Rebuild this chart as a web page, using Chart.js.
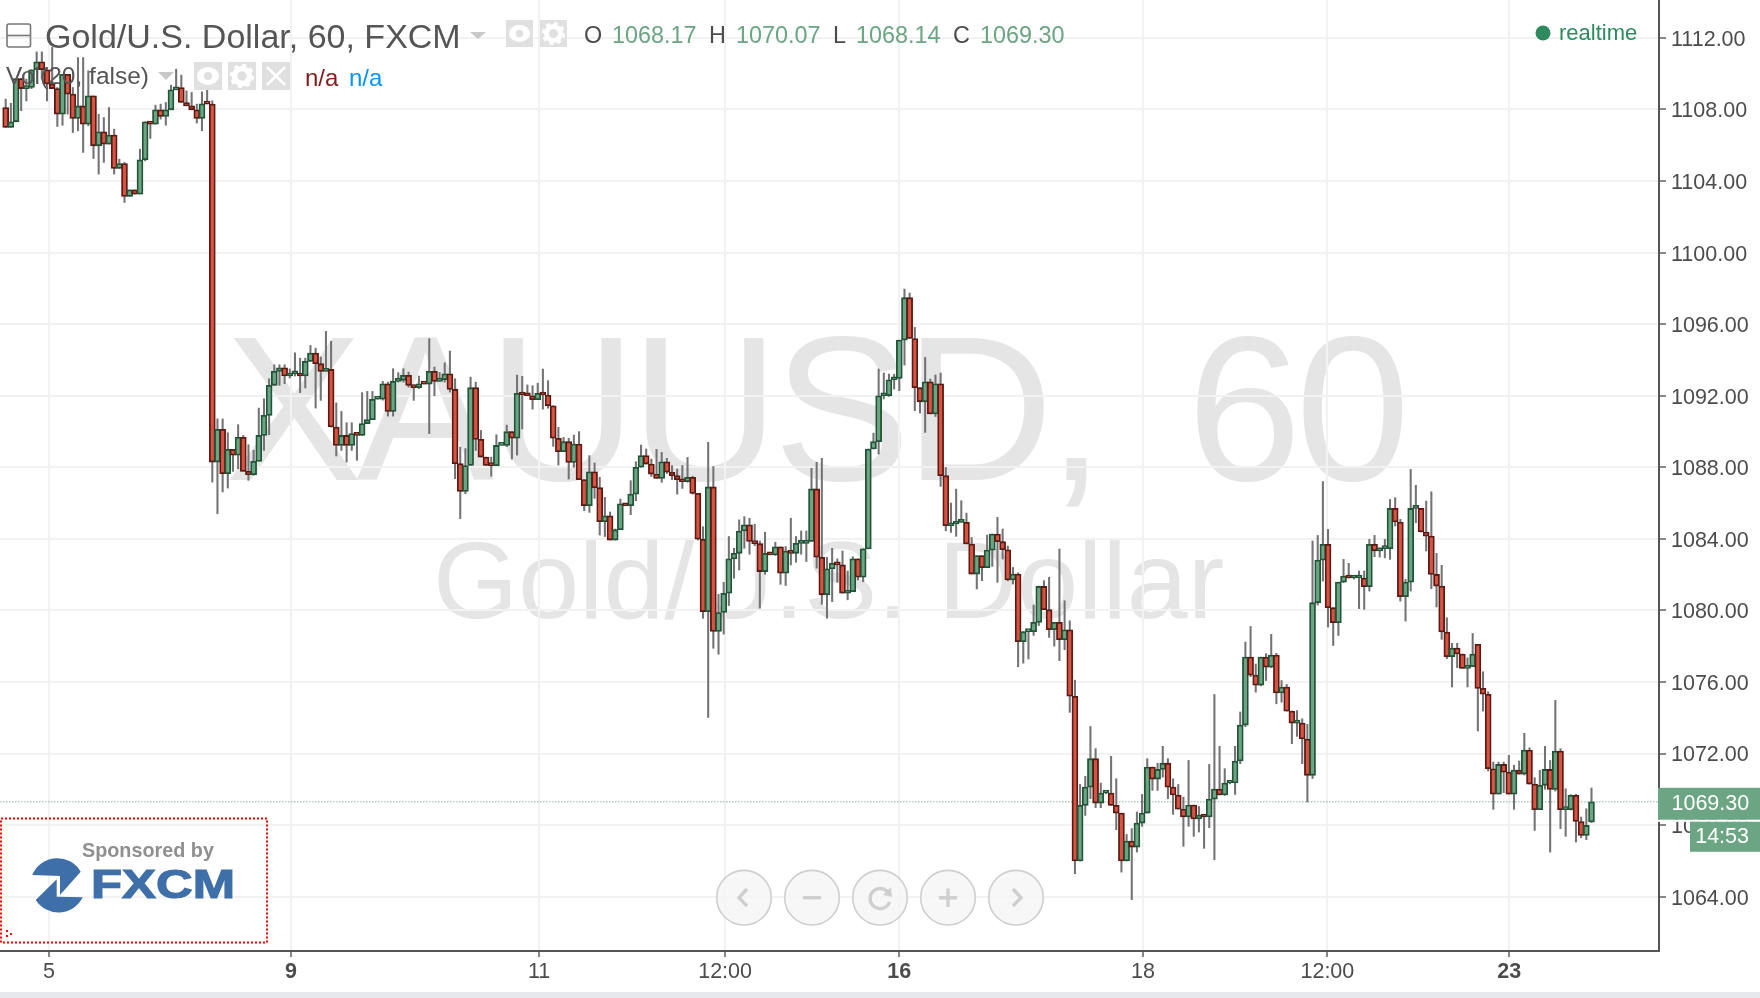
<!DOCTYPE html>
<html><head><meta charset="utf-8">
<script src="https://cdn.jsdelivr.net/npm/chart.js@4"></script>
<style>
html,body{margin:0;padding:0;background:#fff;width:1760px;height:998px;overflow:hidden;font-family:"Liberation Sans",Arial,sans-serif}
#wrap{position:relative;width:1760px;height:998px;background:#fff}
#strip{position:absolute;left:0;top:992px;width:1760px;height:6px;background:#e6e8ee}
.t{position:absolute;white-space:nowrap;line-height:1}
#c{position:absolute;left:0;top:0;z-index:2}
.wm{z-index:1;color:#e5e5e5}
.ov{z-index:3}
svg.ov{position:absolute;left:0;top:0}
</style></head><body><div id="wrap">
<div class="t wm" style="left:225px;top:306px;font-size:206px;letter-spacing:-6px;word-spacing:37px" id="wm1">XAUUSD, 60</div>
<div class="t wm" style="left:433px;top:526px;font-size:109.5px" id="wm2">Gold/U.S. Dollar</div>
<canvas id="c" width="1760" height="992"></canvas>
<div id="strip"></div>
<svg class="ov" width="1760" height="998">
 <rect x="7" y="24" width="23.5" height="23" rx="2" fill="none" stroke="#777" stroke-width="1.6"/><line x1="7" y1="35.5" x2="30.5" y2="35.5" stroke="#777" stroke-width="1.6"/>
 <polygon points="470,32 486,32 478,39" fill="#c9c9c9"/>
 <rect x="506" y="20" width="27" height="27" fill="#e0e0e0"/><rect x="540" y="20" width="27" height="27" fill="#e0e0e0"/>
 <ellipse cx="519.5" cy="33.5" rx="10.5" ry="8.5" fill="#fff"/><circle cx="519.5" cy="33.5" r="3.8" fill="#e0e0e0"/>
 <circle cx="553.5" cy="33.5" r="7" fill="none" stroke="#fff" stroke-width="5"/><circle cx="553.5" cy="33.5" r="10" fill="none" stroke="#fff" stroke-width="3.2" stroke-dasharray="4 3.85"/>
 <polygon points="158,72 174,72 166,80" fill="#c9c9c9"/>
 <rect x="194" y="62" width="28" height="28" fill="#e0e0e0"/><rect x="228" y="62" width="28" height="28" fill="#e0e0e0"/><rect x="262" y="62" width="28" height="28" fill="#e0e0e0"/>
 <ellipse cx="208" cy="76" rx="11" ry="9" fill="#fff"/><circle cx="208" cy="76" r="4" fill="#e0e0e0"/>
 <circle cx="242" cy="76" r="7.5" fill="none" stroke="#fff" stroke-width="5.5"/><circle cx="242" cy="76" r="10.5" fill="none" stroke="#fff" stroke-width="3.5" stroke-dasharray="4 4.2"/>
 <path d="M267 67 L285 85 M285 67 L267 85" stroke="#fff" stroke-width="2.6"/>
 <circle cx="1543" cy="33" r="7.5" fill="#2e8b5f"/>
 <rect x="1" y="818.5" width="266" height="124" fill="none" stroke="#f00" stroke-width="2" stroke-dasharray="2 2"/>
 <path d="M6 930h2v2h-2zM10 933h2v2h-2zM6 935h2v2h-2z" fill="#f00"/>
 <path d="M32.3 875 L60 876 L60 895 L80.7 871.7 A27 27 0 0 0 32.3 875Z" fill="#3f6fa8"/>
 <path d="M35.7 900 L56.7 879.3 L56.7 896.7 L82.7 897.3 A27 27 0 0 1 35.7 900Z" fill="#3f6fa8"/>
 <text x="91" y="898" font-family="Liberation Sans" font-weight="bold" font-size="41" fill="#3f6fa8" stroke="#3f6fa8" stroke-width="1.2" textLength="144" lengthAdjust="spacingAndGlyphs">FXCM</text>
 <g fill="#f6f6f6" fill-opacity=".85" stroke="#cfcfcf" stroke-width="1.6">
  <circle cx="744" cy="897.7" r="27.3"/><circle cx="812" cy="897.7" r="27.3"/><circle cx="880" cy="897.7" r="27.3"/><circle cx="948" cy="897.7" r="27.3"/><circle cx="1016" cy="897.7" r="27.3"/>
 </g>
 <g fill="none" stroke="#cfcfcf" stroke-width="3.4">
  <path d="M747 889 L739 897.7 L747 906"/><path d="M803 897.7 H821"/><path d="M889 894 A10 10 0 1 0 889.5 902"/><path d="M939 897.7 H957 M948 888.5 V907"/><path d="M1013 889 L1021 897.7 L1013 906"/>
 </g>
 <polygon points="891,887 892,897 883,895" fill="#cfcfcf"/>
</svg>
<div class="t ov" style="left:45px;top:19px;font-size:34px;color:#555" id="title">Gold/U.S. Dollar, 60, FXCM</div>
<div class="t ov" style="left:6px;top:64px;font-size:24.5px;color:#555">Vol(20, false)</div>
<div class="t ov" style="left:305px;top:66px;font-size:24px;color:#7f1d1d">n/a</div>
<div class="t ov" style="left:349px;top:66px;font-size:24px;color:#0496ff">n/a</div>
<div class="t ov" style="left:584px;top:24px;font-size:23.4px;color:#4c4c4c">O</div>
<div class="t ov" style="left:612px;top:24px;font-size:23.4px;color:#6ba583">1068.17</div>
<div class="t ov" style="left:709px;top:24px;font-size:23.4px;color:#4c4c4c">H</div>
<div class="t ov" style="left:736px;top:24px;font-size:23.4px;color:#6ba583">1070.07</div>
<div class="t ov" style="left:833px;top:24px;font-size:23.4px;color:#4c4c4c">L</div>
<div class="t ov" style="left:856px;top:24px;font-size:23.4px;color:#6ba583">1068.14</div>
<div class="t ov" style="left:953px;top:24px;font-size:23.4px;color:#4c4c4c">C</div>
<div class="t ov" style="left:980px;top:24px;font-size:23.4px;color:#6ba583">1069.30</div>
<div class="t ov" style="left:1559px;top:22px;font-size:22px;color:#2e8b5f">realtime</div>
<div class="t ov" style="left:82px;top:841px;font-size:19.8px;font-weight:bold;color:#8f8f8f">Sponsored by</div>
</div>
<script>
const opens=[1108.11,1107.00,1107.31,1109.73,1109.17,1109.23,1110.22,1110.66,1110.22,1109.42,1109.17,1107.74,1109.97,1108.86,1107.50,1108.20,1107.18,1108.76,1105.97,1106.75,1106.06,1106.57,1104.70,1104.98,1103.14,1103.51,1103.27,1105.19,1107.31,1107.18,1107.98,1107.61,1107.98,1109.10,1109.23,1108.39,1108.20,1107.98,1107.50,1108.32,1108.30,1088.29,1090.12,1087.64,1089.00,1088.67,1089.67,1087.77,1087.58,1088.33,1089.78,1090.90,1092.58,1093.36,1093.56,1093.10,1093.23,1093.23,1093.10,1093.92,1094.38,1093.79,1093.36,1093.47,1090.25,1089.22,1089.78,1089.22,1089.88,1089.78,1090.44,1090.66,1091.80,1091.80,1092.67,1091.12,1092.80,1092.86,1093.14,1092.58,1092.45,1092.67,1092.65,1093.36,1092.80,1092.89,1093.23,1092.35,1088.20,1086.65,1088.10,1092.45,1089.56,1088.57,1088.10,1088.09,1089.22,1089.22,1089.99,1089.62,1092.13,1092.04,1092.00,1091.78,1092.13,1092.04,1091.44,1089.62,1088.87,1089.43,1088.27,1089.30,1087.31,1085.85,1087.75,1086.86,1084.96,1085.29,1083.93,1084.51,1085.96,1085.85,1086.50,1088.00,1088.65,1088.18,1087.62,1087.38,1088.31,1087.72,1087.53,1087.31,1087.19,1087.44,1086.54,1083.98,1079.93,1086.90,1078.82,1079.88,1080.96,1082.88,1083.19,1084.44,1084.78,1083.85,1083.73,1082.17,1083.19,1083.10,1083.55,1082.08,1083.32,1083.19,1083.75,1083.75,1083.85,1086.79,1082.97,1080.87,1082.32,1082.63,1082.54,1080.96,1081.05,1082.88,1081.85,1083.44,1089.02,1089.43,1092.00,1092.00,1092.89,1092.97,1095.11,1097.48,1095.20,1092.45,1091.66,1092.78,1090.98,1092.67,1087.53,1084.73,1084.83,1084.92,1084.92,1083.71,1082.03,1083.06,1082.39,1083.37,1084.27,1083.84,1083.39,1081.70,1082.03,1078.25,1078.81,1078.81,1079.33,1081.34,1080.04,1078.92,1079.33,1078.36,1078.92,1075.20,1065.99,1069.10,1070.12,1071.71,1069.23,1069.79,1069.79,1069.10,1068.67,1065.99,1067.11,1066.77,1068.11,1068.67,1071.24,1070.57,1071.11,1071.46,1070.12,1069.68,1068.89,1068.45,1069.12,1068.34,1068.56,1068.45,1069.45,1070.01,1069.68,1070.35,1070.35,1071.58,1073.59,1077.39,1076.38,1075.82,1077.39,1076.83,1077.50,1075.38,1075.71,1074.37,1073.70,1073.70,1072.81,1070.78,1080.43,1082.81,1083.69,1080.15,1079.31,1081.58,1081.92,1081.81,1081.81,1081.81,1081.32,1083.69,1083.33,1083.45,1083.45,1085.70,1084.94,1080.76,1081.58,1085.70,1085.70,1084.38,1084.15,1082.01,1081.36,1078.79,1077.41,1077.89,1077.56,1076.76,1076.85,1078.10,1075.64,1075.31,1071.15,1069.73,1071.39,1070.96,1069.73,1071.08,1070.85,1072.19,1070.29,1068.86,1070.22,1071.11,1069.99,1072.14,1068.86,1068.86,1069.66,1068.20,1067.42,1068.17];
const closes=[1107.00,1107.31,1109.73,1109.17,1109.23,1110.22,1110.66,1110.22,1109.42,1109.17,1107.74,1109.97,1108.86,1107.50,1108.20,1107.18,1108.76,1105.97,1106.75,1106.06,1106.57,1104.70,1104.98,1103.14,1103.51,1103.27,1105.19,1107.31,1107.18,1107.98,1107.61,1107.98,1109.10,1109.23,1108.39,1108.20,1107.98,1107.50,1108.32,1108.30,1088.29,1090.12,1087.64,1089.00,1088.67,1089.67,1087.77,1087.58,1088.33,1089.78,1090.90,1092.58,1093.36,1093.56,1093.10,1093.23,1093.23,1093.10,1093.92,1094.38,1093.79,1093.36,1093.47,1090.25,1089.22,1089.78,1089.22,1089.88,1089.78,1090.44,1090.66,1091.80,1091.80,1092.67,1091.12,1092.80,1092.86,1093.14,1092.58,1092.45,1092.67,1092.65,1093.36,1092.80,1092.89,1093.23,1092.35,1088.20,1086.65,1088.10,1092.45,1089.56,1088.57,1088.10,1088.09,1089.22,1089.22,1089.99,1089.62,1092.13,1092.04,1092.00,1091.78,1092.13,1092.04,1091.44,1089.62,1088.87,1089.43,1088.27,1089.30,1087.31,1085.85,1087.75,1086.86,1084.96,1085.29,1083.93,1084.51,1085.96,1085.85,1086.50,1088.00,1088.65,1088.18,1087.62,1087.38,1088.31,1087.72,1087.53,1087.31,1087.19,1087.44,1086.54,1083.98,1079.93,1086.90,1078.82,1079.88,1080.96,1082.88,1083.19,1084.44,1084.78,1083.85,1083.73,1082.17,1083.19,1083.10,1083.55,1082.08,1083.32,1083.19,1083.75,1083.75,1083.85,1086.79,1082.97,1080.87,1082.32,1082.63,1082.54,1080.96,1081.05,1082.88,1081.85,1083.44,1089.02,1089.43,1092.00,1092.00,1092.89,1092.97,1095.11,1097.48,1095.20,1092.45,1091.66,1092.78,1090.98,1092.67,1087.53,1084.73,1084.83,1084.92,1084.92,1083.71,1082.03,1083.06,1082.39,1083.37,1084.27,1083.84,1083.39,1081.70,1082.03,1078.25,1078.81,1078.81,1079.33,1081.34,1080.04,1078.92,1079.33,1078.36,1078.92,1075.20,1065.99,1069.10,1070.12,1071.71,1069.23,1069.79,1069.79,1069.10,1068.67,1065.99,1067.11,1066.77,1068.11,1068.67,1071.24,1070.57,1071.11,1071.46,1070.12,1069.68,1068.89,1068.45,1069.12,1068.34,1068.56,1068.45,1069.45,1070.01,1069.68,1070.35,1070.35,1071.58,1073.59,1077.39,1076.38,1075.82,1077.39,1076.83,1077.50,1075.38,1075.71,1074.37,1073.70,1073.70,1072.81,1070.78,1080.43,1082.81,1083.69,1080.15,1079.31,1081.58,1081.92,1081.81,1081.81,1081.81,1081.32,1083.69,1083.33,1083.45,1083.45,1085.70,1084.94,1080.76,1081.58,1085.70,1085.70,1084.38,1084.15,1082.01,1081.36,1078.79,1077.41,1077.89,1077.56,1076.76,1076.85,1077.56,1075.64,1075.31,1071.15,1069.73,1071.39,1070.96,1069.73,1071.08,1070.85,1072.19,1070.29,1068.86,1070.22,1071.11,1069.99,1072.14,1068.86,1068.86,1069.66,1068.20,1067.42,1067.98,1069.30];
const highs=[1108.58,1108.35,1109.73,1109.73,1109.70,1110.22,1111.22,1111.22,1110.35,1111.47,1109.23,1109.97,1109.50,1109.23,1110.90,1110.90,1110.16,1108.76,1107.74,1107.55,1108.11,1106.90,1105.22,1105.04,1103.51,1103.51,1105.78,1107.31,1107.31,1108.24,1108.30,1108.39,1109.36,1110.25,1109.92,1109.04,1108.95,1108.30,1108.99,1109.14,1108.48,1090.71,1090.70,1089.93,1089.00,1090.38,1089.78,1089.26,1088.95,1091.31,1091.83,1092.95,1093.73,1093.73,1093.73,1093.50,1094.40,1094.10,1094.10,1094.81,1094.66,1094.16,1095.60,1095.04,1091.60,1091.12,1090.49,1090.49,1089.88,1092.17,1092.24,1092.24,1091.80,1092.80,1092.76,1093.51,1093.29,1093.51,1093.32,1092.60,1093.10,1092.67,1095.19,1093.60,1093.30,1093.84,1094.50,1092.95,1089.13,1089.04,1093.04,1092.76,1090.06,1088.57,1088.57,1089.82,1089.22,1090.36,1089.99,1093.15,1093.08,1092.60,1092.56,1092.70,1093.49,1092.84,1091.44,1090.23,1089.67,1089.62,1089.80,1089.99,1087.31,1088.65,1088.24,1087.44,1086.32,1085.50,1084.55,1086.22,1085.96,1087.25,1088.31,1089.24,1089.02,1088.46,1089.00,1088.83,1088.50,1088.09,1087.90,1088.10,1088.55,1087.50,1086.54,1084.68,1089.40,1088.04,1080.90,1081.57,1084.13,1083.47,1085.06,1085.24,1085.15,1084.81,1083.88,1084.37,1083.19,1083.81,1083.55,1083.57,1085.15,1084.13,1084.44,1084.44,1087.94,1088.28,1088.50,1082.97,1083.47,1082.88,1083.32,1082.20,1083.00,1082.88,1083.44,1089.02,1089.91,1093.49,1093.27,1093.21,1093.20,1095.11,1097.96,1097.74,1095.82,1092.45,1094.14,1092.93,1093.16,1093.27,1087.99,1086.00,1086.78,1086.13,1085.44,1084.08,1083.06,1083.06,1084.21,1084.27,1085.20,1084.55,1083.60,1082.40,1082.10,1078.81,1078.81,1080.30,1081.36,1081.66,1081.85,1079.33,1083.43,1080.54,1079.42,1076.10,1070.27,1070.72,1073.51,1072.27,1070.35,1069.85,1071.84,1070.59,1068.67,1067.48,1067.80,1068.73,1069.71,1071.71,1071.24,1071.46,1072.40,1071.71,1070.59,1070.27,1069.56,1071.61,1069.12,1069.04,1068.56,1071.39,1075.30,1072.40,1071.15,1070.40,1072.40,1074.32,1078.23,1079.10,1077.00,1077.39,1077.58,1078.66,1077.60,1076.08,1075.86,1074.37,1074.40,1073.94,1073.63,1083.88,1084.19,1087.20,1084.53,1080.15,1081.58,1082.85,1082.63,1081.90,1082.20,1082.20,1083.97,1084.19,1083.50,1083.97,1086.20,1086.30,1085.09,1081.73,1087.88,1086.99,1085.70,1086.11,1086.63,1083.19,1082.52,1079.59,1078.16,1078.16,1077.56,1077.35,1078.71,1078.10,1076.57,1075.45,1071.52,1071.52,1071.52,1071.90,1071.34,1071.58,1073.13,1072.32,1070.65,1071.06,1072.40,1071.61,1074.97,1072.27,1070.03,1069.70,1069.72,1068.45,1068.91,1070.07];
const lows=[1107.00,1107.00,1107.31,1107.93,1108.48,1109.17,1110.22,1109.70,1108.48,1109.17,1107.05,1107.12,1107.74,1106.71,1106.81,1105.60,1107.09,1105.26,1104.39,1105.04,1106.06,1104.39,1104.70,1102.80,1103.14,1103.27,1103.27,1105.13,1106.38,1107.18,1107.46,1107.12,1107.98,1109.10,1108.39,1108.20,1107.98,1107.24,1106.81,1108.32,1087.17,1085.40,1086.62,1086.84,1087.77,1087.92,1087.77,1087.27,1087.55,1088.94,1088.94,1089.82,1092.58,1092.58,1092.67,1092.99,1093.10,1092.17,1092.43,1093.92,1091.31,1091.74,1093.36,1090.25,1088.63,1088.94,1088.29,1088.94,1088.39,1089.78,1090.44,1090.66,1091.80,1091.75,1090.86,1090.86,1092.76,1092.76,1092.48,1091.74,1092.40,1092.65,1089.88,1092.00,1092.80,1092.76,1092.20,1087.36,1085.13,1086.52,1088.10,1088.94,1088.57,1088.10,1087.50,1088.09,1089.22,1089.15,1088.46,1088.68,1090.14,1092.00,1091.25,1091.78,1091.25,1091.30,1089.17,1088.12,1088.87,1087.34,1088.00,1087.31,1085.57,1085.48,1086.26,1084.21,1084.13,1083.93,1083.93,1084.51,1085.85,1085.35,1086.13,1088.00,1088.18,1087.49,1087.38,1087.16,1087.65,1087.31,1086.50,1086.82,1087.16,1086.50,1083.93,1079.56,1074.01,1077.88,1077.55,1078.67,1080.27,1081.80,1082.26,1083.47,1083.14,1083.62,1080.12,1082.02,1083.10,1083.07,1081.46,1081.39,1082.54,1082.69,1083.14,1082.73,1083.85,1082.36,1080.34,1079.56,1080.49,1081.57,1080.96,1080.59,1081.05,1081.70,1081.60,1083.44,1089.02,1088.74,1091.82,1091.96,1092.37,1092.28,1093.71,1095.20,1091.16,1091.03,1089.95,1090.98,1090.84,1086.93,1084.45,1084.36,1084.14,1084.92,1083.71,1082.03,1081.20,1081.66,1082.39,1082.46,1081.57,1082.87,1081.65,1081.47,1076.85,1077.05,1077.28,1078.60,1079.15,1080.04,1078.49,1078.00,1077.19,1077.80,1074.30,1065.28,1065.99,1068.54,1069.47,1068.97,1068.97,1069.75,1069.10,1067.74,1065.37,1065.99,1063.83,1066.49,1067.93,1068.67,1069.94,1069.94,1070.68,1069.47,1068.60,1068.89,1066.81,1067.93,1067.37,1067.61,1066.70,1067.85,1066.06,1069.68,1069.65,1070.30,1069.71,1071.43,1073.50,1076.30,1075.43,1075.78,1076.08,1076.80,1074.78,1074.87,1074.37,1072.55,1072.96,1071.43,1069.29,1070.60,1080.30,1081.64,1079.07,1078.04,1078.60,1081.55,1081.80,1081.75,1080.10,1080.06,1081.08,1083.00,1082.98,1082.94,1082.85,1084.71,1080.52,1079.40,1081.08,1084.90,1084.38,1083.32,1081.21,1080.19,1078.38,1077.30,1075.72,1076.80,1076.76,1075.72,1076.85,1073.26,1074.37,1071.02,1068.88,1069.73,1069.81,1069.73,1068.88,1070.85,1070.80,1070.29,1067.70,1068.86,1070.00,1066.49,1069.90,1067.80,1067.37,1068.84,1067.05,1067.29,1067.18,1068.14];
const priceTicks=[1064,1068,1072,1076,1080,1084,1088,1092,1096,1100,1104,1108,1112];
const timeLabels=['5','9','11','12:00','16','18','12:00','23'];
const timeTickBars=[8.39,55.24,103.27,139.27,172.97,220.17,255.87,291.07];
const boldTimeLabels=['9','16','23'];
const lastPrice=1069.30, countdown='14:53';

const FONT='"Liberation Sans", Arial, sans-serif';
const bars=closes.map((_,i)=>i);
const isUp=i=>closes[i]>=opens[i];
const lastPricePlugin={id:'lastPrice',
 beforeDatasetsDraw(ch){const {ctx,chartArea:a}=ch,y=ch.scales.y.getPixelForValue(lastPrice);
  ctx.save();ctx.strokeStyle='rgba(107,165,131,.55)';ctx.lineWidth=1.4;ctx.setLineDash([1.5,1.5]);
  ctx.beginPath();ctx.moveTo(a.left,y);ctx.lineTo(a.right,y);ctx.stroke();ctx.restore();},
 afterDraw(ch){const {ctx,chartArea:a}=ch,y=ch.scales.y.getPixelForValue(lastPrice);
  ctx.save();ctx.fillStyle='#6ba583';ctx.fillRect(a.right-1,y-14,102,32);
  ctx.fillStyle='#fff';ctx.fillRect(a.right-1,y+18,102,2);
  ctx.fillStyle='#6ba583';ctx.fillRect(1690,y+20,70,30);
  ctx.fillStyle='#fff';ctx.font='21.5px '+FONT;ctx.textBaseline='middle';ctx.textAlign='left';
  ctx.fillText(lastPrice.toFixed(2),1671.5,y+2.5);ctx.textAlign='right';ctx.fillText(countdown,1749,y+35);ctx.restore();}
};
new Chart(document.getElementById('c'),{
 type:'bar',
 data:{datasets:[
  {label:'body',order:1,grouped:false,barThickness:6,borderWidth:1.8,borderSkipped:false,minBarLength:3,
   data:bars.map(i=>({x:i,y:[opens[i],closes[i]]})),
   backgroundColor:bars.map(i=>isUp(i)?'#6ba583':'#d75442'),
   borderColor:bars.map(i=>isUp(i)?'#225437':'#5b1a13')},
  {label:'wick',order:2,grouped:false,barThickness:1.4,borderWidth:0,
   data:bars.map(i=>({x:i,y:[lows[i],highs[i]]})),backgroundColor:'#737375'}
 ]},
 options:{responsive:false,animation:false,devicePixelRatio:1,
  layout:{padding:0},
  plugins:{legend:{display:false},tooltip:{enabled:false},title:{display:false}},
  scales:{
   x:{type:'linear',position:'bottom',min:-1.1,max:320.07,offset:false,
    afterBuildTicks(s){s.ticks=timeTickBars.map(v=>({value:v}));},
    afterFit(s){s.height=41;s.paddingLeft=s.paddingRight=s.paddingTop=s.paddingBottom=0;},
    grid:{offset:false,color:'#f2f2f2',lineWidth:2,tickColor:'#555',tickWidth:1.4,tickLength:6},
    border:{color:'#555',width:2},
    ticks:{autoSkip:false,maxRotation:0,padding:2,color:'#4c4c4c',
     callback:(v,i)=>timeLabels[i],
     font:c=>({family:FONT,size:21.5,weight:boldTimeLabels.includes(timeLabels[c.index])?'bold':'normal'})}},
   y:{type:'linear',position:'right',min:1060.96,max:1114.12,
    afterBuildTicks(s){s.ticks=priceTicks.map(v=>({value:v}));},
    afterFit(s){s.width=101;s.paddingLeft=s.paddingRight=s.paddingTop=s.paddingBottom=0;},
    grid:{color:'#f2f2f2',lineWidth:2,tickColor:'#555',tickWidth:1.4,tickLength:7},
    border:{color:'#555',width:2},
    ticks:{autoSkip:false,padding:5,labelOffset:2,color:'#4c4c4c',font:{family:FONT,size:21.5},
     callback:v=>v.toFixed(2)}}
  }},
 plugins:[lastPricePlugin]
});
</script>
</body></html>
